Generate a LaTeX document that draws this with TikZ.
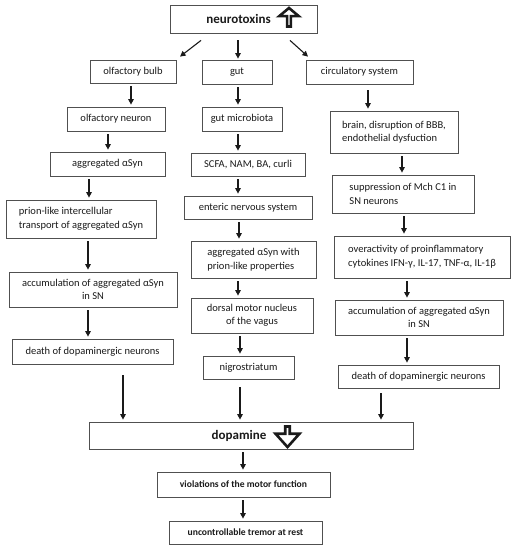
\documentclass[tikz,border=0pt]{standalone}
\usepackage{fontspec}
\setmainfont{Carlito}
\usetikzlibrary{arrows.meta,positioning,shapes.arrows}
\definecolor{ink}{HTML}{1A1A1A}
\definecolor{edge}{HTML}{505050}
\tikzset{
  box/.style={draw=edge, line width=0.8pt, fill=white, align=center, inner sep=2pt, font=\fontsize{10.5}{13.5}\selectfont, text=ink},
  lbox/.style={box, align=left},
  bbox/.style={box, font=\fontsize{9.6}{13}\selectfont\bfseries},
  headtxt/.style={font=\fontsize{13}{15}\selectfont\bfseries, text=ink, inner sep=0pt},
  fatarrow/.style={single arrow, draw=ink, line width=2.6pt, fill=white, inner sep=0pt},
  arrow/.style={-{Triangle[length=5.5pt,width=5.5pt]}, line width=1.3pt, draw=ink, shorten <=3pt, shorten >=2pt},
  diag/.style={-{Triangle[length=5.5pt,width=5.5pt]}, line width=1.1pt, draw=ink}
}
\begin{document}
\begin{tikzpicture}[x=1pt, y=-1pt]
\useasboundingbox (0,0) rectangle (515,550);
\node[box, minimum width=147, minimum height=28] (ttl) at (243.5,19) {};
\node[headtxt] (ttltxt) at (238.5,19) {neurotoxins};
\node[fatarrow, shape border rotate=90, minimum height=18.5, minimum width=19.5, single arrow head extend=5.5, single arrow tip angle=100] (ttlarr) at (289,18) {};
\node[box, minimum width=86, minimum height=23] (bulb) at (133,71.5) {olfactory bulb};
\node[box, minimum width=70, minimum height=24] (gut) at (237,72) {gut};
\node[box, minimum width=107, minimum height=24] (circ) at (359.5,72) {circulatory system};
\node[box, minimum width=98, minimum height=24] (neuron) at (116,119) {olfactory neuron};
\node[box, minimum width=80, minimum height=24] (micro) at (242,119) {gut microbiota};
\node[lbox, minimum width=128, minimum height=42] (brain) at (394,132) {brain, disruption of BBB,\\endothelial\ dysfuction};
\node[box, minimum width=115, minimum height=24] (asyn) at (107.5,164) {aggregated αSyn};
\node[box, minimum width=114, minimum height=23] (scfa) at (248,164.5) {SCFA, NAM, BA, curli};
\node[lbox, minimum width=142, minimum height=38] (mch) at (403,194) {suppression of Mch C1 in\\SN neurons};
\node[lbox, minimum width=150, minimum height=38] (prion) at (81,219) {prion-like intercellular\\transport of aggregated αSyn};
\node[box, minimum width=128, minimum height=23] (ens) at (248,207.5) {enteric nervous system};
\node[lbox, minimum width=176, minimum height=42] (overact) at (422,257) {overactivity of proinflammatory\\cytokines IFN-γ, IL-17, TNF-α, IL-1β};
\node[box, minimum width=168, minimum height=35] (accL) at (93,289.5) {accumulation of aggregated αSyn\\in SN};
\node[lbox, minimum width=125, minimum height=37] (aggprion) at (253.5,259.5) {aggregated αSyn with\\prion-like properties};
\node[box, minimum width=161, minimum height=25] (deathL) at (92.5,351.5) {death of dopaminergic neurons};
\node[box, minimum width=122, minimum height=35] (dmnv) at (252,315.5) {dorsal motor nucleus\\of the vagus};
\node[box, minimum width=91, minimum height=23] (nigro) at (248.5,367.5) {nigrostriatum};
\node[box, minimum width=168, minimum height=35] (accR) at (419,317.5) {accumulation of aggregated αSyn\\in SN};
\node[box, minimum width=161, minimum height=23] (deathR) at (418.5,376.5) {death of dopaminergic neurons};
\node[box, minimum width=324, minimum height=27] (dopa) at (251,435.5) {};
\node[headtxt] (dopatxt) at (239,435.5) {dopamine};
\node[fatarrow, shape border rotate=270, minimum height=20.5, minimum width=24, single arrow head extend=5.5, single arrow tip angle=84] (dopaarr) at (287.5,435.5) {};
\node[bbox, minimum width=173, minimum height=25] (viol) at (243.5,484.5) {violations of the motor function};
\node[bbox, minimum width=153, minimum height=23] (tremor) at (245.5,532.5) {uncontrollable tremor at rest};
\draw[diag] ([xshift=-42.5,yshift=-7]ttl.south) -- ([xshift=47,yshift=3]bulb.north);
\draw[diag] ([xshift=-5.5,yshift=-7]ttl.south) -- ([xshift=1,yshift=1]gut.north);
\draw[diag] ([xshift=46.5,yshift=-7]ttl.south) -- ([xshift=-51.5,yshift=3]circ.north);
\draw[arrow] ([xshift=-2]bulb.south) -- ([xshift=-2]bulb.south |- neuron.north);
\draw[arrow] ([xshift=-8]neuron.south) -- ([xshift=-8]neuron.south |- asyn.north);
\draw[arrow] ([xshift=-18.5]asyn.south) -- ([xshift=-18.5]asyn.south |- prion.north);
\draw[arrow] ([xshift=7]prion.south) -- ([xshift=7]prion.south |- accL.north);
\draw[arrow] ([xshift=-5]accL.south) -- ([xshift=-5]accL.south |- deathL.north);
\draw[arrow] ([xshift=30.5,yshift=-8]deathL.south) -- ([xshift=30.5]deathL.south |- dopa.north);
\draw[arrow] ([xshift=1]gut.south) -- ([xshift=1]gut.south |- micro.north);
\draw[arrow] ([xshift=-4]micro.south) -- ([xshift=-4]micro.south |- scfa.north);
\draw[arrow] ([xshift=-10]scfa.south) -- ([xshift=-10]scfa.south |- ens.north);
\draw[arrow] ([xshift=-9]ens.south) -- ([xshift=-9]ens.south |- aggprion.north);
\draw[arrow] ([xshift=-15.5]aggprion.south) -- ([xshift=-15.5]aggprion.south |- dmnv.north);
\draw[arrow] ([xshift=-12]dmnv.south) -- ([xshift=-12]dmnv.south |- nigro.north);
\draw[arrow] ([xshift=-8.5,yshift=-5]nigro.south) -- ([xshift=-8.5]nigro.south |- dopa.north);
\draw[arrow] ([xshift=8.5,yshift=-3]circ.south) -- ([xshift=8.5]circ.south |- brain.north);
\draw[arrow] ([xshift=8]brain.south) -- ([xshift=8]brain.south |- mch.north);
\draw[arrow] ([xshift=1]mch.south) -- ([xshift=1]mch.south |- overact.north);
\draw[arrow] ([xshift=-15]overact.south) -- ([xshift=-15]overact.south |- accR.north);
\draw[arrow] ([xshift=-12]accR.south) -- ([xshift=-12]accR.south |- deathR.north);
\draw[arrow] ([xshift=-37.5,yshift=-2]deathR.south) -- ([xshift=-37.5]deathR.south |- dopa.north);
\draw[arrow] ([xshift=-8]dopa.south) -- ([xshift=-8]dopa.south |- viol.north);
\draw[arrow] ([xshift=-0.5]viol.south) -- ([xshift=-0.5]viol.south |- tremor.north);
\end{tikzpicture}
\end{document}
